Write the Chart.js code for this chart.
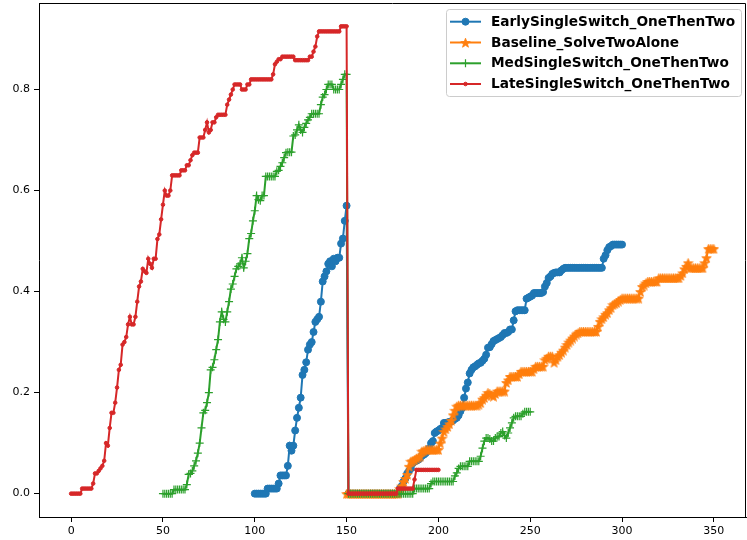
<!DOCTYPE html>
<html>
<head>
<meta charset="utf-8">
<script src="https://cdn.jsdelivr.net/npm/chart.js@4/dist/chart.umd.min.js"></script>
<style>
  html, body { margin: 0; padding: 0; background: #fff; }
  canvas { display: block; }
</style>
</head>
<body>
<canvas id="chart" width="747" height="540"></canvas>
<script>
// tick labels
const xTicks = [0, 50, 100, 150, 200, 250, 300, 350];
const yTicks = [0.0, 0.2, 0.4, 0.6, 0.8];

const seriesNames = [
    'EarlySingleSwitch_OneThenTwo',
    'Baseline_SolveTwoAlone',
    'MedSingleSwitch_OneThenTwo',
    'LateSingleSwitch_OneThenTwo'
];

// one value per step, first step given by *Start
const earlyStart = 100;
const earlyVals = [
    0, 0, 0, 0, 0, 0, 0, .01, .01, .01,
    .01, .01, .01, .02, .036, .036, .036, .036, .055, .095,
    .085, .095, .125, .15, .17, .19, .235, .245, .26, .285,
    .295, .30, .32, .34, .345, .35, .38, .42, .43, .44,
    .455, .46, .45, .465, .46, .467, .467, .495, .505, .54,
    .57,
    0, 0, 0, 0, 0, 0, 0, 0, 0,
    0, 0, 0, 0, 0, 0, 0, 0, 0, 0,
    0, 0, 0, 0, 0, 0, 0, 0, 0, .01,
    .015, .024, .03, .04, .045, .05, .06, .064, .065, .067,
    .07, .075, .077, .08, .084, .09, .10, .104, .12, .123,
    .125, .128, .13, .14, .14, .141, .142, .143, .145, .148,
    .15, .155, .163, .17, .19, .208, .22, .238, .245, .25,
    .252, .255, .258, .259, .263, .267, .275, .289, .29, .296,
    .302, .304, .306, .308, .31, .314, .318, .318, .32, .325,
    .325, .343, .361, .363, .363, .363, .363, .363, .386, .388,
    .39, .392, .397, .397, .397, .397, .397, .399, .41, .417,
    .427, .43, .435, .437, .438, .438, .438, .442, .445, .447,
    .447, .447, .447, .447, .447, .447, .447, .447, .447, .447,
    .447, .447, .447, .447, .447, .447, .447, .447, .447, .447,
    .465, .472, .482, .488, .49, .493, .493, .493, .493, .493,
    .493
];

const baseStart = 150;
const baseVals = [
    0, 0, 0, 0, 0, 0, 0, 0, 0, 0,
    0, 0, 0, 0, 0, 0, 0, 0, 0, 0,
    0, 0, 0, 0, 0, 0, 0, 0, 0, .01,
    .015, .024, .03, .038, .054, .064, .065, .067, .07, .072,
    .074, .084, .085, .087, .087, .087, .087, .087, .087, .087,
    .087, .10, .11, .123, .128, .133, .138, .145, .156, .165,
    .173, .175, .175, .175, .175, .175, .175, .175, .175, .175,
    .175, .175, .177, .18, .187, .19, .195, .20, .198, .195,
    .193, .198, .203, .203, .203, .203, .203, .22, .225, .232,
    .232, .232, .232, .232, .237, .242, .242, .242, .242, .242,
    .242, .242, .247, .252, .252, .252, .252, .252, .265, .268,
    .272, .272, .272, .26, .265, .272, .275, .28, .284, .29,
    .295, .30, .304, .308, .312, .316, .318, .321, .321, .321,
    .321, .321, .321, .321, .321, .321, .321, .331, .341, .346,
    .35, .355, .358, .364, .368, .374, .376, .378, .381, .384,
    .387, .387, .387, .387, .387, .387, .387, .387, .387, .387,
    .40, .41, .413, .417, .42, .42, .42, .42, .42, .42,
    .427, .427, .427, .427, .427, .427, .427, .427, .427, .427,
    .427, .427, .432, .437, .445, .45, .457, .447, .447, .447,
    .447, .447, .447, .447, .447, .457, .467, .485, .485, .485,
    .485
];

const medStart = 50;
const medVals = [
    0, 0, 0, 0, 0, 0, .008, .008, .008, .008,
    .008, .008, .008, .018, .038, .04, .045, .055, .065, .08,
    .10, .13, .16, .165, .18, .20, .245, .25, .265, .285,
    .305, .34, .36, .345, .34, .36, .38, .405, .415, .43,
    .445, .45, .455, .467, .447, .46, .475, .505, .515, .54,
    .56, .59, .582, .58, .59, .59, .628, .628, .628, .628,
    .628, .628, .638, .64, .648, .655, .665, .675, .676, .676,
    .676, .708, .71, .72, .73, .72, .715, .725, .733, .74,
    .745, .752, .752, .752, .752, .752, .77, .785, .79, .80,
    .81, .81, .81, .80, .80, .80, .80, .81, .82, .83,
    .83,
    0, 0, 0, 0, 0, 0, 0, 0, 0,
    0, 0, 0, 0, 0, 0, 0, 0, 0, 0,
    0, 0, 0, 0, 0, 0, 0, 0, 0, 0,
    0, 0, 0, 0, 0, 0, 0, .01, .01, .01,
    .01, .01, .01, .01, .01, .01, .02, .024, .024, .024,
    .024, .024, .024, .024, .024, .024, .024, .024, .024, .035,
    .041, .05, .054, .054, .054, .054, .054, .064, .064, .064,
    .064, .064, .064, .074, .09, .104, .11, .11, .108, .104,
    .104, .11, .113, .113, .12, .123, .115, .11, .12, .13,
    .14, .15, .153, .153, .153, .153, .158, .162, .162, .162,
    .162
];

const lateStart = 0;
const lateVals = [
    0, 0, 0, 0, 0, 0, .01, .01, .01, .01,
    .01, .01, .02, .04, .04, .045, .05, .055, .065, .10,
    .095, .13, .16, .16, .18, .21, .245, .255, .295, .30,
    .31, .335, .35, .335, .335, .35, .38, .41, .42, .445,
    .44, .437, .465, .455, .447, .465, .465, .504, .513, .543,
    .572, .60, .59, .59, .60, .63, .63, .63, .63, .63,
    .64, .64, .64, .65, .65, .66, .67, .675, .675, .675,
    .705, .705, .705, .72, .735, .715, .72, .735, .735, .745,
    .75, .75, .75, .75, .75, .77, .78, .79, .80, .81,
    .81, .81, .81, .80, .80, .80, .81, .81, .82, .82,
    .82, .82, .82, .82, .82, .82, .82, .82, .82, .82,
    .83, .85, .855, .86, .86, .865, .865, .865, .865, .865,
    .865, .865, .858, .858, .858, .858, .858, .858, .858, .858,
    .865, .865, .875, .885, .905, .915, .915, .915, .915, .915,
    .915, .915, .915, .915, .915, .915, .915, .925, .925, .925,
    .925,
    0, 0, 0, 0, 0, 0, 0, 0, 0,
    0, 0, 0, 0, 0, 0, 0, 0, 0, 0,
    0, 0, 0, 0, 0, 0, 0, 0, .01, .01,
    .01, .01, .01, .01, .01, .01, .01, .028, .047, .047,
    .047, .047, .047, .047, .047, .047, .047, .047, .047, .047,
    .047
];

const toPoints = (start, vals) => vals.map((v, i) => ({ x: start + i, y: v }));

function makeStar(size, color) {
    const c = document.createElement('canvas');
    c.width = size;
    c.height = size;
    const g = c.getContext('2d');
    const R = size / 2 - 0.5, r = R * 0.42;
    g.beginPath();
    for (let i = 0; i < 10; i++) {
        const a = -Math.PI / 2 + i * Math.PI / 5;
        const rr = i % 2 ? r : R;
        g.lineTo(size / 2 + rr * Math.cos(a), size / 2 + 0.7 + rr * Math.sin(a));
    }
    g.closePath();
    g.fillStyle = color;
    g.fill();
    g.strokeStyle = color;
    g.lineWidth = 0.8;
    g.stroke();
    return c;
}

const colors = ['#1f77b4', '#ff7f0e', '#2ca02c', '#d62728'];
const starImg = makeStar(11, colors[1]);

const datasets = [
    { label: seriesNames[0], data: toPoints(earlyStart, earlyVals), borderColor: colors[0], backgroundColor: colors[0],
      pointStyle: 'circle', pointRadius: 3.5, pointBorderWidth: 1, order: 4 },
    { label: seriesNames[1], data: toPoints(baseStart, baseVals), borderColor: colors[1], backgroundColor: colors[1],
      pointStyle: starImg, pointRadius: 4, pointBorderWidth: 1, order: 3 },
    { label: seriesNames[2], data: toPoints(medStart, medVals), borderColor: colors[2], backgroundColor: colors[2],
      pointStyle: 'cross', pointRadius: 4, pointBorderWidth: 1.2, order: 2 },
    { label: seriesNames[3], data: toPoints(lateStart, lateVals), borderColor: colors[3], backgroundColor: colors[3],
      pointStyle: 'circle', pointRadius: 1.8, pointBorderWidth: 1, order: 1 }
];
datasets.forEach(ds => {
    ds.borderWidth = 2;
    ds.tension = 0;
    ds.pointBorderColor = ds.borderColor;
    ds.pointBackgroundColor = ds.borderColor;
});

// drop the extra label padding Chart.js reserves around the axes
const noPad = axis => {
    axis.paddingTop = 0;
    axis.paddingBottom = 0;
    axis.paddingLeft = 0;
    axis.paddingRight = 0;
};

// top/right spines and matplotlib-like legend box
const framePlugin = {
    id: 'frame',
    afterDraw(chart) {
        const { ctx, chartArea: a } = chart;
        ctx.save();
        ctx.strokeStyle = '#000';
        ctx.lineWidth = 1;
        ctx.beginPath();
        ctx.moveTo(Math.round(a.left) + 0.5, Math.round(a.top) + 0.5);
        ctx.lineTo(Math.round(a.right) - 0.5, Math.round(a.top) + 0.5);
        ctx.lineTo(Math.round(a.right) - 0.5, Math.round(a.bottom) + 0.5);
        ctx.stroke();

        const bx = 446.5, by = 9.5, bw = 295, bh = 87, rad = 3;
        ctx.beginPath();
        ctx.roundRect(bx, by, bw, bh, rad);
        ctx.globalAlpha = 0.8;
        ctx.fillStyle = '#fff';
        ctx.fill();
        ctx.globalAlpha = 1;
        ctx.strokeStyle = '#cccccc';
        ctx.stroke();

        const rowY = [21.7, 42.5, 63.3, 84];
        chart.data.datasets.forEach((ds, i) => {
            const y = rowY[i];
            ctx.strokeStyle = ds.borderColor;
            ctx.lineWidth = 2;
            ctx.beginPath();
            ctx.moveTo(450, y);
            ctx.lineTo(481, y);
            ctx.stroke();
            ctx.fillStyle = ds.borderColor;
            ctx.strokeStyle = ds.borderColor;
            ctx.lineWidth = ds.pointBorderWidth;
            Chart.helpers.drawPoint(ctx, {
                pointStyle: ds.pointStyle, radius: ds.pointRadius, rotation: 0, borderWidth: ds.pointBorderWidth
            }, 465.5, y);
            ctx.fillStyle = '#000';
            ctx.font = 'bold 13.7px "DejaVu Sans"';
            ctx.textBaseline = 'middle';
            ctx.textAlign = 'left';
            ctx.fillText(ds.label, 491, y + 0.5);
        });
        ctx.restore();
    }
};

Chart.defaults.font.family = '"DejaVu Sans", sans-serif';
Chart.defaults.font.size = 11;
Chart.defaults.color = '#000';

new Chart(document.getElementById('chart'), {
    type: 'line',
    data: { datasets },
    options: {
        responsive: false,
        animation: false,
        devicePixelRatio: 1,
        layout: { autoPadding: false, padding: { top: 3, right: 1, left: 0, bottom: 0 } },
        plugins: { legend: { display: false }, tooltip: { enabled: false } },
        scales: {
            x: {
                type: 'linear',
                min: -17.5,
                max: 367.5,
                afterBuildTicks: axis => { axis.ticks = xTicks.map(v => ({ value: v })); },
                afterFit: axis => { axis.height = 23; noPad(axis); },
                ticks: { padding: 3, maxRotation: 0, callback: v => String(v) },
                grid: { drawOnChartArea: false, drawTicks: true, tickLength: 5, color: '#000' },
                border: { display: true, color: '#000', width: 1 }
            },
            y: {
                type: 'linear',
                min: -0.04625,
                max: 0.97125,
                afterBuildTicks: axis => { axis.ticks = yTicks.map(v => ({ value: v })); },
                afterFit: axis => { axis.width = 39; noPad(axis); },
                ticks: { padding: 4, callback: v => v.toFixed(1) },
                grid: { drawOnChartArea: false, drawTicks: true, tickLength: 5, color: '#000' },
                border: { display: true, color: '#000', width: 1 }
            }
        }
    },
    plugins: [framePlugin]
});
</script>
</body>
</html>
